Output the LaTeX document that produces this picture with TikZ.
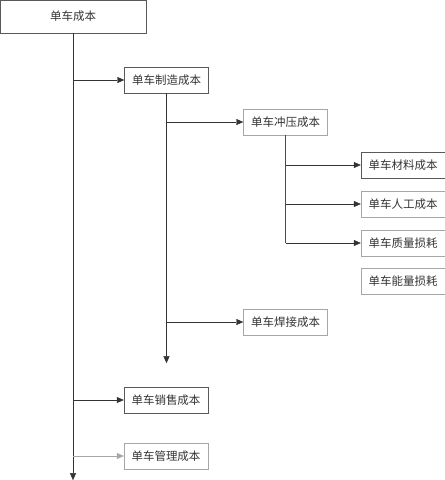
\documentclass[tikz,border=0pt]{standalone}
\usepackage{fontspec}
\setmainfont{Noto Sans CJK SC}
\usetikzlibrary{arrows.meta,positioning}
\tikzset{b/.style={draw=black!65,minimum width=84pt,minimum height=26pt,inner sep=1pt,text=black!80,font=\fontsize{11.5}{13}\selectfont},
lb/.style={b,draw=black!35},arr/.style={-{Triangle[length=7pt,width=6pt]},draw=black!80}}
\begin{document}
\begin{tikzpicture}[x=1pt,y=-1pt]
\useasboundingbox(0,0)rectangle(445,480);
\node[b,minimum width=146pt,minimum height=33pt](total)at(73,16.5){单车成本};
\node[b](make)at(166.5,80){单车制造成本};\node[lb](press)at(285.5,122){单车冲压成本};
\node[b](mat)at(403,165){单车材料成本};\node[lb](labor)at(403,204){单车人工成本};
\node[lb](qual)at(403,243){单车质量损耗};\node[lb](energy)at(403,281){单车能量损耗};
\node[lb](weld)at(285.5,322){单车焊接成本};\node[b](sale)at(166,400){单车销售成本};
\node[lb](mgmt)at(166,456){单车管理成本};
\draw[arr](total.south)--++(0,447);\draw[arr](make.south)--++(0,270);
\draw[black!70](press.south)--(press.south|-qual);
\foreach\b in{make,sale}\draw[arr](total.south|-\b)--(\b);
\draw[arr,draw=black!35](total.south|-mgmt)--(mgmt);
\foreach\b in{press,weld}\draw[arr](make.south|-\b)--(\b);
\foreach\b in{mat,labor,qual}\draw[arr](press.south|-\b)--(\b);
\end{tikzpicture}
\end{document}
